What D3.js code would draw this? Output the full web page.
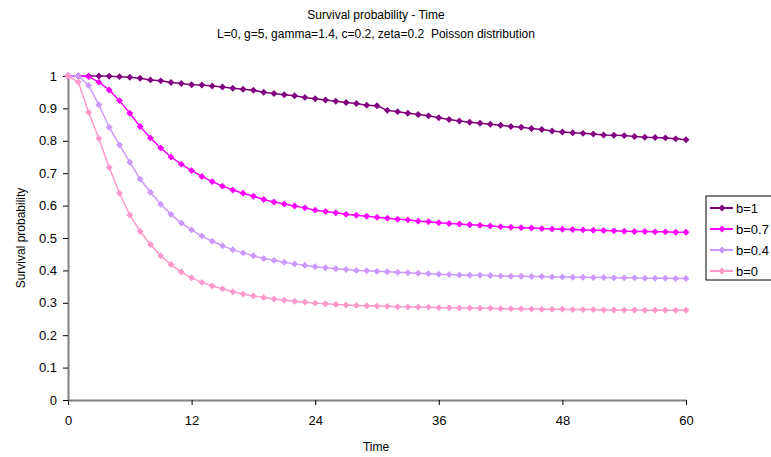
<!DOCTYPE html>
<html>
  <head>
    <meta charset="utf-8">
    <title>Survival probability - Time</title>
    <script src="https://cdn.jsdelivr.net/npm/d3@7"></script>
    <style>
      body { margin: 0; background: #fff; }
      svg { font-family: "Liberation Sans", Arial, sans-serif; }
      .axis .domain { stroke: #808080; stroke-width: 2; }
      .axis .tick line { stroke: #000; }
      .axis .tick text { font-size: 13px; fill: #000; }
      .pre { white-space: pre; }
    </style>
  </head>
  <body>
    <svg id="chart" width="771" height="457"></svg>
    <script>
      // data
      var time = [0,1,2,3,4,5,6,7,8,9,10,11,12,13,14,15,16,17,18,19,20,
        21,22,23,24,25,26,27,28,29,30,31,32,33,34,35,36,37,38,39,40,
        41,42,43,44,45,46,47,48,49,50,51,52,53,54,55,56,57,58,59,60];
      var seriesNames = ["b=1", "b=0.7", "b=0.4", "b=0"];
      var seriesColors = ["#800080", "#ff00ff", "#cc99ff", "#ff99cc"];
      var b1 = [1,1,1,1,0.999,0.998,0.996,0.993,0.988,0.985,0.980,
        0.977,0.973,0.972,0.969,0.966,0.962,0.959,0.956,0.950,0.946,
        0.942,0.939,0.934,0.930,0.926,0.922,0.918,0.915,0.910,0.908,
        0.894,0.890,0.885,0.881,0.877,0.871,0.866,0.861,0.857,0.854,
        0.851,0.848,0.844,0.842,0.838,0.835,0.830,0.827,0.825,0.823,
        0.821,0.818,0.817,0.816,0.813,0.811,0.810,0.809,0.806,0.803];
      var b07 = [1,1,0.998,0.981,0.957,0.924,0.885,0.844,0.809,0.778,0.750,
        0.728,0.708,0.690,0.674,0.660,0.648,0.638,0.629,0.619,0.611,
        0.605,0.599,0.593,0.586,0.582,0.578,0.573,0.570,0.567,0.564,
        0.561,0.558,0.556,0.552,0.550,0.547,0.545,0.543,0.541,0.539,
        0.537,0.535,0.533,0.532,0.531,0.529,0.528,0.527,0.526,0.525,
        0.524,0.523,0.522,0.521,0.520,0.520,0.519,0.519,0.518,0.518];
      var b04 = [1,1,0.971,0.911,0.842,0.787,0.734,0.682,0.641,0.604,0.573,
        0.546,0.525,0.506,0.490,0.476,0.464,0.454,0.445,0.437,0.431,
        0.425,0.420,0.416,0.411,0.408,0.405,0.403,0.400,0.399,0.397,
        0.396,0.394,0.393,0.391,0.390,0.388,0.387,0.386,0.385,0.385,
        0.384,0.383,0.382,0.382,0.381,0.381,0.380,0.380,0.379,0.379,
        0.378,0.378,0.377,0.377,0.377,0.376,0.376,0.376,0.375,0.375];
      var b0 = [1,0.981,0.888,0.807,0.718,0.638,0.571,0.521,0.480,0.445,0.418,
        0.395,0.377,0.363,0.352,0.343,0.334,0.327,0.321,0.316,0.312,
        0.308,0.305,0.302,0.299,0.297,0.295,0.293,0.292,0.291,0.290,
        0.289,0.288,0.287,0.287,0.286,0.285,0.285,0.284,0.284,0.283,
        0.283,0.282,0.282,0.281,0.281,0.280,0.280,0.280,0.279,0.279,
        0.279,0.278,0.278,0.278,0.278,0.277,0.277,0.277,0.277,0.277];
      var xTicks = [0, 12, 24, 36, 48, 60];
      var yTicks = [0, 0.1, 0.2, 0.3, 0.4, 0.5, 0.6, 0.7, 0.8, 0.9, 1];

      var series = [b1, b07, b04, b0].map(function(vals, i) {
        return {
          name: seriesNames[i],
          color: seriesColors[i],
          values: vals.map(function(v, j) { return { t: time[j], v: v }; })
        };
      });

      // layout
      var chart = d3.select("#chart");
      var plot = { left: 68, right: 686, top: 76, bottom: 400 };
      var x = d3.scaleLinear().domain([0, 60]).range([plot.left, plot.right]);
      var y = d3.scaleLinear().domain([0, 1]).range([plot.bottom, plot.top]);

      chart.append("rect").attr("width", 771).attr("height", 457).attr("fill", "#fff");

      // titles
      chart.append("text").attr("x", 376).attr("y", 19)
        .attr("text-anchor", "middle").attr("font-size", 12)
        .text("Survival probability - Time");
      chart.append("text").attr("class", "pre").attr("x", 376).attr("y", 38)
        .attr("text-anchor", "middle").attr("font-size", 12)
        .text("L=0, g=5, gamma=1.4, c=0.2, zeta=0.2  Poisson distribution");

      // axes
      var xAxis = d3.axisBottom(x).tickValues(xTicks).tickSize(5).tickSizeOuter(0).tickPadding(11);
      var yAxis = d3.axisLeft(y).tickValues(yTicks).tickSize(5).tickSizeOuter(0).tickPadding(6)
        .tickFormat(function(d) { return String(d); });
      chart.append("g").attr("class", "axis")
        .attr("transform", "translate(0," + plot.bottom + ")").call(xAxis);
      chart.append("g").attr("class", "axis")
        .attr("transform", "translate(" + plot.left + ",0)").call(yAxis);

      chart.append("text").attr("x", 376).attr("y", 451)
        .attr("text-anchor", "middle").attr("font-size", 12).text("Time");
      chart.append("text")
        .attr("transform", "translate(25," + ((plot.top + plot.bottom) / 2) + ") rotate(-90)")
        .attr("text-anchor", "middle").attr("font-size", 12).text("Survival probability");

      // lines and markers
      var line = d3.line()
        .x(function(d) { return x(d.t); })
        .y(function(d) { return y(d.v); });
      var marker = d3.symbol().type(d3.symbolSquare).size(24);

      series.forEach(function(s) {
        var g = chart.append("g");
        g.append("path").attr("d", line(s.values))
          .attr("fill", "none").attr("stroke", s.color).attr("stroke-width", 1.5);
        g.selectAll("path.mark").data(s.values).enter().append("path")
          .attr("class", "mark")
          .attr("d", marker)
          .attr("transform", function(d) { return "translate(" + x(d.t) + "," + y(d.v) + ") rotate(45)"; })
          .attr("fill", s.color);
      });

      // legend
      var legend = chart.append("g").attr("transform", "translate(706,196)");
      legend.append("rect").attr("width", 80).attr("height", 84)
        .attr("fill", "#fff").attr("stroke", "#000").attr("stroke-width", 1);
      series.forEach(function(s, i) {
        var ly = 12 + i * 21;
        legend.append("line").attr("x1", 4).attr("x2", 27).attr("y1", ly).attr("y2", ly)
          .attr("stroke", s.color).attr("stroke-width", 2);
        legend.append("path").attr("d", marker)
          .attr("transform", "translate(16," + ly + ") rotate(45)").attr("fill", s.color);
        legend.append("text").attr("x", 30).attr("y", ly + 4.5)
          .attr("font-size", 13).text(s.name);
      });
    </script>
  </body>
</html>
